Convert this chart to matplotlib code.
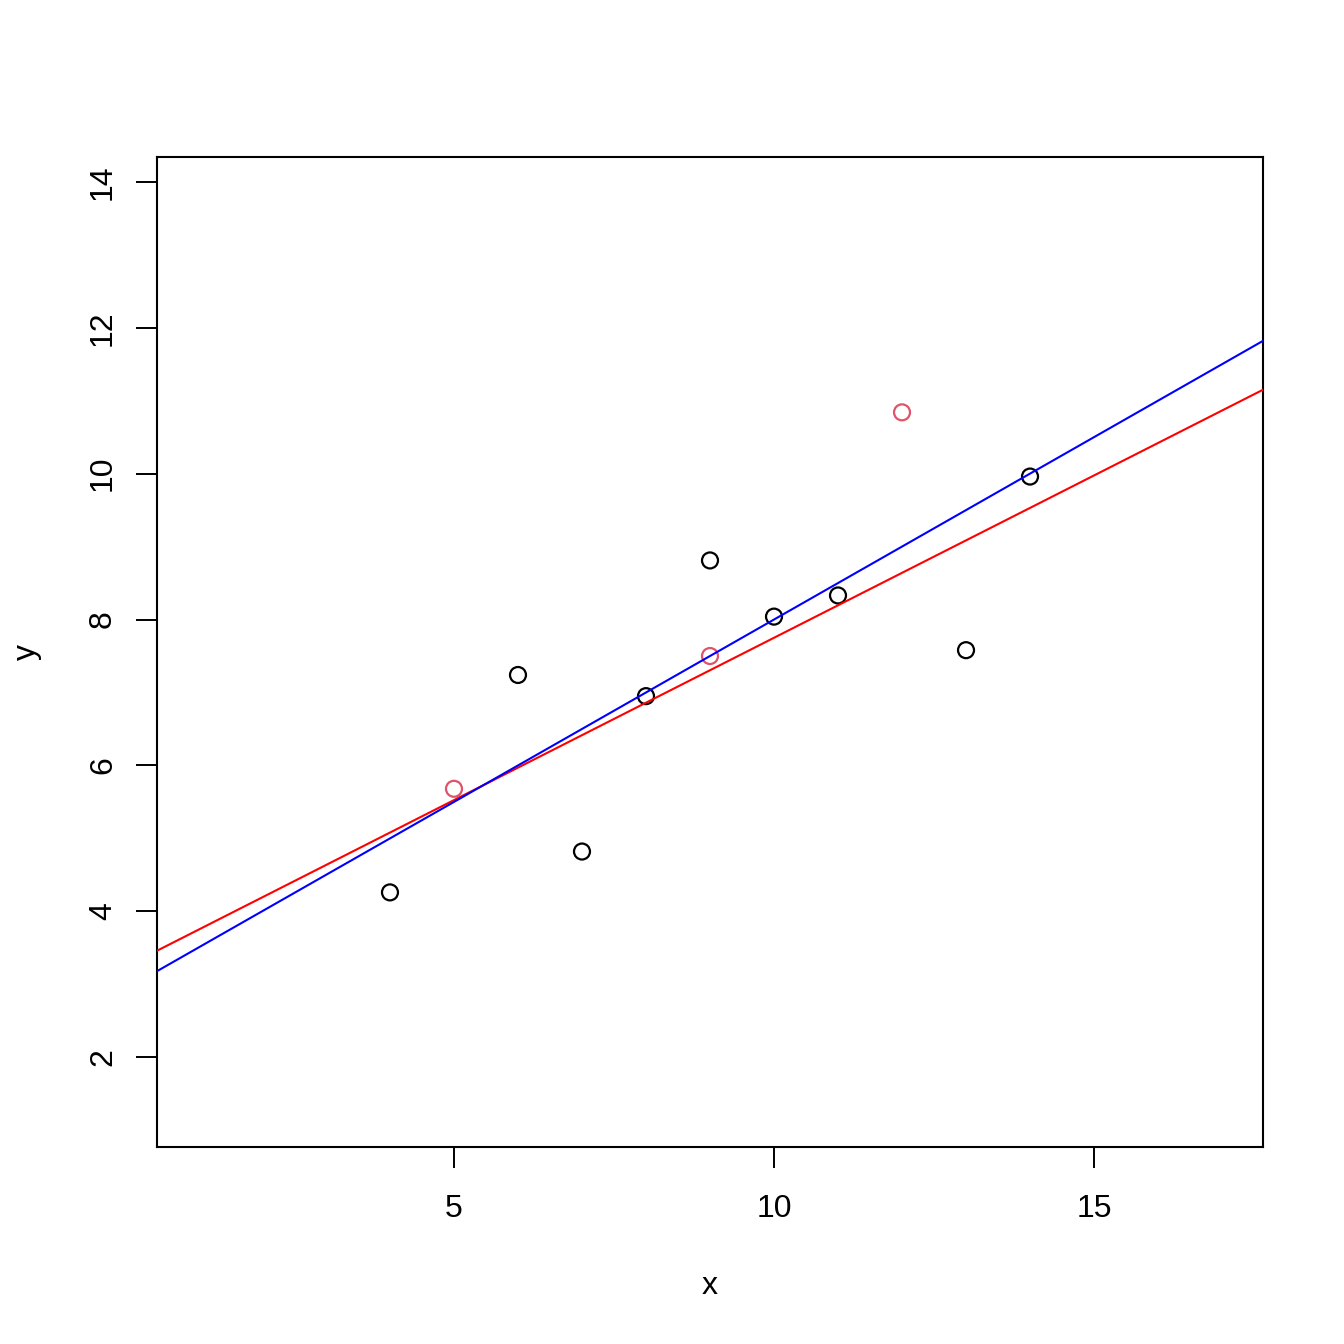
import matplotlib
matplotlib.use("Agg")
import matplotlib.pyplot as plt
import numpy as np

# points (black)
x_black = [10, 8, 13, 9, 11, 14, 6, 4, 7]
y_black = [8.04, 6.95, 7.58, 8.81, 8.33, 9.96, 7.24, 4.26, 4.82]
# highlighted points (red)
x_red = [5, 9, 12]
y_red = [5.68, 7.50, 10.84]

# fitted lines: (intercept, slope)
fit_red = (3.30, 0.445)
fit_blue = (3.00, 0.500)

x_ticks = [5, 10, 15]
y_ticks = [2, 4, 6, 8, 10, 12, 14]
xlim = (0.36, 17.64)
ylim = (0.77, 14.34)

plt.rcParams['font.family'] = ['Liberation Sans', 'DejaVu Sans']

fig = plt.figure(figsize=(13.44, 13.44), dpi=100)
ax = fig.add_axes([157 / 1344, 1 - 1147 / 1344, (1263 - 157) / 1344, (1147 - 157) / 1344])

ax.scatter(x_black, y_black, s=11.5 ** 2, facecolors='none', edgecolors='black',
           linewidths=1.6, zorder=3)
ax.scatter(x_red, y_red, s=11.5 ** 2, facecolors='none', edgecolors='#DF536B',
           linewidths=1.6, zorder=3)

xx = np.array(xlim)
ax.plot(xx, fit_red[0] + fit_red[1] * xx, color='red', lw=1.5, zorder=4)
ax.plot(xx, fit_blue[0] + fit_blue[1] * xx, color='blue', lw=1.5, zorder=4)

ax.set_xlim(*xlim)
ax.set_ylim(*ylim)
ax.set_xticks(x_ticks)
ax.set_yticks(y_ticks)
ax.tick_params(axis='both', direction='out', length=15, width=1.4, labelsize=23, color='black')
ax.tick_params(axis='x', pad=19)
ax.tick_params(axis='y', pad=13)
for lab in ax.get_yticklabels():
    lab.set_rotation(90)
    lab.set_va('center')
for sp in ax.spines.values():
    sp.set_linewidth(1.5)

ax.set_xlabel('x', fontsize=23, labelpad=34)
ax.set_ylabel('y', fontsize=23, labelpad=33)

fig.savefig('out.png', dpi=100, facecolor='white')
